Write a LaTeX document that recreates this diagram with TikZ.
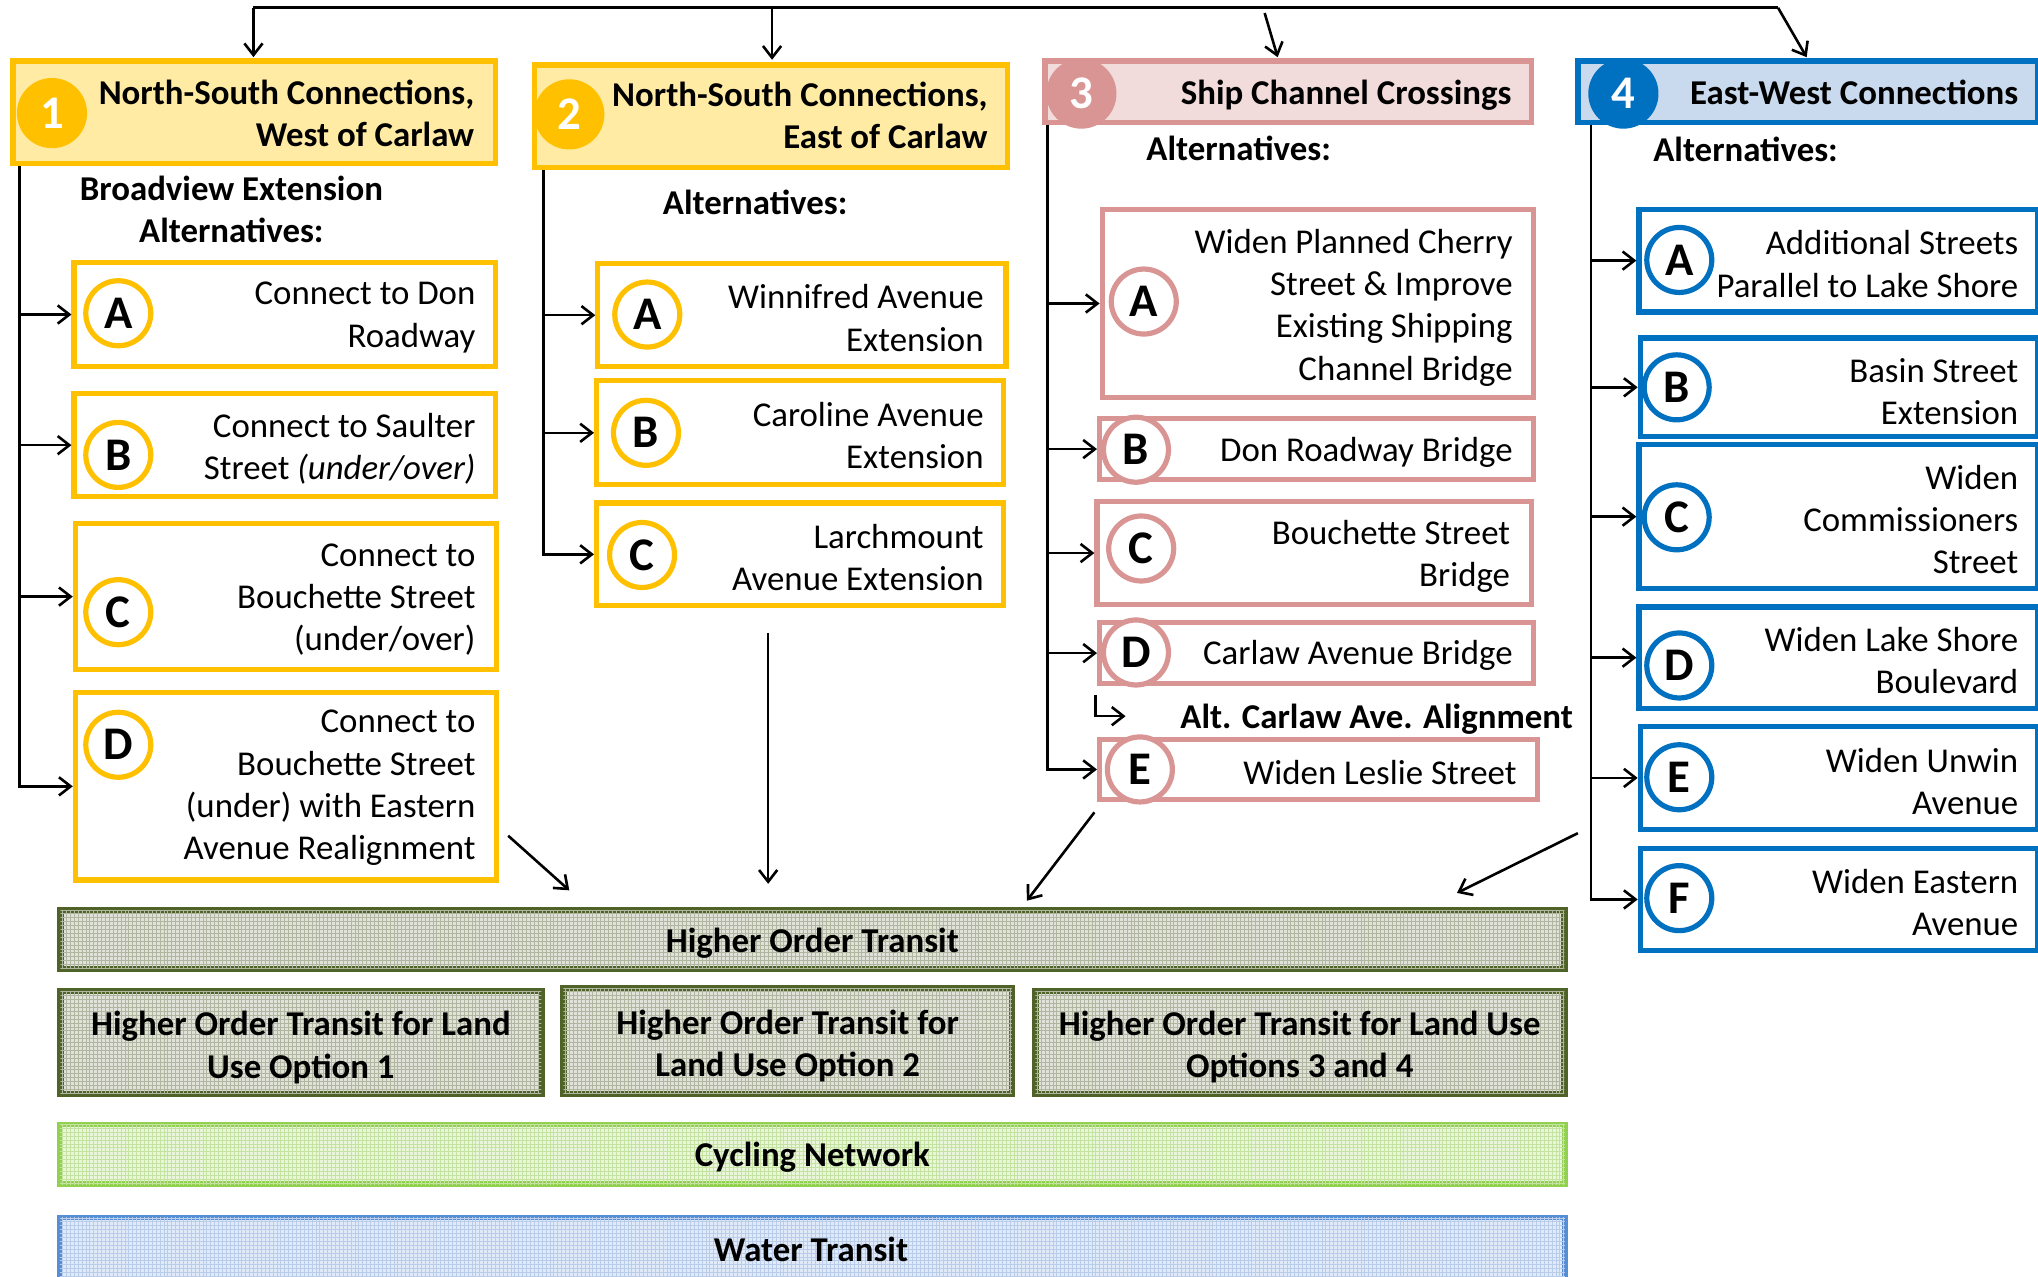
\documentclass[tikz,border=0pt]{standalone}
\usepackage{fontspec}
\setmainfont{Carlito}
\usetikzlibrary{arrows.meta,patterns}
\definecolor{gold}{HTML}{FFC000}
\definecolor{goldfill}{HTML}{FFEBA3}
\definecolor{pinkb}{HTML}{D99594}
\definecolor{pinkfill}{HTML}{F2DCDB}
\definecolor{blueb}{HTML}{0070C0}
\definecolor{bluefill}{HTML}{C9D9EE}
\definecolor{olive}{HTML}{4F6228}
\definecolor{hotfill}{HTML}{E0E2D9}
\definecolor{hotgrid}{HTML}{B0B6A0}
\definecolor{cycb}{HTML}{92D050}
\definecolor{cycfill}{HTML}{EAF6DA}
\definecolor{cycgrid}{HTML}{C5E3A0}
\definecolor{watb}{HTML}{558ED5}
\definecolor{watfill}{HTML}{E0EAF8}
\definecolor{watgrid}{HTML}{B9CDEA}
\newcommand{\myBody}{\fontsize{26.8}{32.5}\selectfont}
\newcommand{\myBold}{\fontsize{26.8}{32.5}\selectfont\bfseries}
\newcommand{\myCirc}{\fontsize{36}{40}\selectfont\bfseries}
\begin{document}
\begin{tikzpicture}[x=1pt,y=-1pt,
  box/.style={draw, line width=4pt, inner sep=0pt, rectangle},
  ybox/.style={box, draw=gold, fill=white},
  pbox/.style={box, draw=pinkb, fill=white},
  bbox/.style={box, draw=blueb, fill=white},
  obox/.style={box, draw=olive, line width=5pt, fill=hotfill, pat=hotgrid},
  hnum/.style={circle, minimum size=54pt, inner sep=0pt, text=white, font=\myCirc},
  lett/.style={circle, minimum size=50pt, inner sep=0pt, line width=4pt, fill=white, font=\myCirc},
  rtxt/.style={anchor=east, align=right, inner sep=0pt, font=\myBody, yshift=-2.2pt},
  btxt/.style={anchor=east, align=right, inner sep=0pt, font=\myBold},
  ctxt/.style={align=center, inner sep=0pt, font=\myBold},
  bartxt/.style={ctxt, yshift=-2.5pt},
  arr/.style={-{Straight Barb[length=9pt,width=14pt]}, line width=2pt},
  topline/.style={line width=2.6pt},
  pat/.style={postaction={pattern=grid, pattern color=#1}},
]
\fill[white] (0,0) rectangle (1568,982);
\useasboundingbox (0,0) rectangle (1568,982);

% ---------- headers ----------
\node[box, draw=gold, fill=goldfill, minimum width=371pt, minimum height=79pt] (h1) at (195.5,86.5) {};
\node[hnum, fill=gold] (n1) at (40,87) {1};
\node[btxt] (h1t) at (365,87) {North-South Connections,\\West of Carlaw};

\node[box, draw=gold, fill=goldfill, minimum width=364pt, minimum height=79pt] (h2) at (593,89.5) {};
\node[hnum, fill=gold] (n2) at (438,88) {2};
\node[btxt] (h2t) at (760,89) {North-South Connections,\\East of Carlaw};

\node[box, draw=pinkb, fill=pinkfill, minimum width=374pt, minimum height=47pt] (h3) at (991,70.5) {};
\node[hnum, fill=pinkb] (n3) at (832,72) {3};
\node[btxt, yshift=-2pt] (h3t) at (1163,71) {Ship Channel Crossings};

\node[box, draw=blueb, fill=bluefill, minimum width=354pt, minimum height=47pt] (h4) at (1391,70.5) {};
\node[hnum, fill=blueb] (n4) at (1249,72) {4};
\node[btxt] (h4t) at (1553,71) {East-West Connections};

% ---------- top arrows ----------
\coordinate (tL) at (195,6);
\coordinate (tM) at (594,6);
\coordinate (tR) at (1368,6);
\coordinate (t3s) at (973,10);
\coordinate (t3e) at (983,44);
\coordinate (t4e) at (1390,44);
\coordinate (t1e) at (195,44);
\coordinate (t2e) at (594,46);
\draw[topline] (tL) -- (tR);
\draw[arr] (tL) -- (t1e);
\draw[arr] (tM) -- (t2e);
\draw[arr] (t3s) -- (t3e);
\draw[arr] (tR) -- (t4e);

% ---------- column labels ----------
\node[ctxt] (l1) at (178,161) {Broadview Extension\\Alternatives:};
\node[ctxt] (l2) at (581,156) {Alternatives:};
\node[ctxt] (l3) at (953,114) {Alternatives:};
\node[ctxt] (l4) at (1343,115) {Alternatives:};

% ---------- column 1 ----------
\node[ybox, minimum width=324pt, minimum height=80pt] (a1) at (219,242) {};
\node[ybox, minimum width=324pt, minimum height=79pt] (b1) at (219,342.5) {};
\node[ybox, minimum width=324pt, minimum height=112pt] (c1) at (220,459) {};
\node[ybox, minimum width=324pt, minimum height=144pt] (d1) at (220,605) {};
\node[lett, draw=gold] (a1c) at (91,241) {A};
\node[lett, draw=gold] (b1c) at (91,350) {B};
\node[lett, draw=gold] (c1c) at (91,471) {C};
\node[lett, draw=gold] (d1c) at (91,573) {D};
\node[rtxt] (a1t) at (366,242) {Connect to Don\\Roadway};
\node[rtxt] (b1t) at (366,343) {Connect to Saulter\\Street \textit{(under/over)}};
\node[rtxt] (c1t) at (366,459) {Connect to\\Bouchette Street\\(under/over)};
\node[rtxt] (d1t) at (366,604) {Connect to\\Bouchette Street\\(under) with Eastern\\Avenue Realignment};
\coordinate (s1) at (15,128);
\draw[arr] (s1) |- (a1.west);
\draw[arr] (s1) |- (b1.west);
\draw[arr] (s1) |- (c1.west);
\draw[arr] (s1) |- (d1.west);

% ---------- column 2 ----------
\node[ybox, minimum width=314pt, minimum height=79pt] (a2) at (617,242.5) {};
\node[ybox, minimum width=313pt, minimum height=80pt] (b2) at (615.5,333) {};
\node[ybox, minimum width=313pt, minimum height=79pt] (c2) at (615.5,426.5) {};
\node[lett, draw=gold] (a2c) at (498,242) {A};
\node[lett, draw=gold] (b2c) at (497,333) {B};
\node[lett, draw=gold] (c2c) at (494,427) {C};
\node[rtxt] (a2t) at (757,242.5) {Winnifred Avenue\\Extension};
\node[rtxt] (b2t) at (757,333) {Caroline Avenue\\Extension};
\node[rtxt] (c2t) at (757,426.5) {Larchmount\\Avenue Extension};
\coordinate (s2) at (418,131);
\draw[arr] (s2) |- (a2.west);
\draw[arr] (s2) |- (b2.west);
\draw[arr] (s2) |- (c2.west);

% ---------- column 3 ----------
\node[pbox, minimum width=332pt, minimum height=145pt] (a3) at (1014,233.5) {};
\node[pbox, minimum width=334pt, minimum height=47pt] (b3) at (1013,345.5) {};
\node[pbox, minimum width=334pt, minimum height=79pt] (c3) at (1011,425.5) {};
\node[pbox, minimum width=334pt, minimum height=47pt] (d3) at (1013,502.5) {};
\node[pbox, minimum width=337pt, minimum height=46pt] (e3) at (1014.5,592) {};
\node[lett, draw=pinkb] (a3c) at (880,232) {A};
\node[lett, draw=pinkb] (b3c) at (874,346) {B};
\node[lett, draw=pinkb] (c3c) at (878,422) {C};
\node[lett, draw=pinkb] (d3c) at (874,502) {D};
\node[lett, draw=pinkb] (e3c) at (877,592) {E};
\node[rtxt] (a3t) at (1164,234.5) {Widen Planned Cherry\\Street \& Improve\\Existing Shipping\\Channel Bridge};
\node[rtxt] (b3t) at (1164,346) {Don Roadway Bridge};
\node[rtxt] (c3t) at (1162,426) {Bouchette Street\\Bridge};
\node[rtxt] (d3t) at (1164,502) {Carlaw Avenue Bridge};
\node[rtxt] (e3t) at (1167,592) {Widen Leslie Street};
\coordinate (s3) at (806,96);
\draw[arr] (s3) |- (a3.west);
\draw[arr] (s3) |- (b3.west);
\draw[arr] (s3) |- (c3.west);
\draw[arr] (s3) |- (d3.west);
\draw[arr] (s3) |- (e3.west);
\node[btxt, anchor=west, yshift=-2pt] (alt) at (908,551) {Alt. Carlaw Ave. Alignment};
\coordinate (altA) at (843,535);
\coordinate (altB) at (866,551);
\draw[arr] (altA) |- (altB);

% ---------- column 4 ----------
\node[bbox, minimum width=307pt, minimum height=79pt] (a4) at (1414.5,200.5) {};
\node[bbox, minimum width=306pt, minimum height=76pt] (b4) at (1415,298) {};
\node[bbox, minimum width=307pt, minimum height=111pt] (c4) at (1414.5,397.5) {};
\node[bbox, minimum width=307pt, minimum height=78pt] (d4) at (1414.5,506) {};
\node[bbox, minimum width=306pt, minimum height=79pt] (e4) at (1415,598.5) {};
\node[bbox, minimum width=306pt, minimum height=78pt] (f4) at (1415,692) {};
\node[lett, draw=blueb] (a4c) at (1292,200) {A};
\node[lett, draw=blueb] (b4c) at (1290,298) {B};
\node[lett, draw=blueb] (c4c) at (1290,398) {C};
\node[lett, draw=blueb] (d4c) at (1292,512) {D};
\node[lett, draw=blueb] (e4c) at (1292,598) {E};
\node[lett, draw=blueb] (f4c) at (1292,691) {F};
\node[rtxt] (a4t) at (1553,201) {Additional Streets\\Parallel to Lake Shore};
\node[rtxt] (b4t) at (1553,299) {Basin Street\\Extension};
\node[rtxt] (c4t) at (1553,397.5) {Widen\\Commissioners\\Street};
\node[rtxt] (d4t) at (1553,506) {Widen Lake Shore\\Boulevard};
\node[rtxt] (e4t) at (1553,599) {Widen Unwin\\Avenue};
\node[rtxt] (f4t) at (1553,692) {Widen Eastern\\Avenue};
\coordinate (s4) at (1224,96);
\draw[arr] (s4) |- (a4.west);
\draw[arr] (s4) |- (b4.west);
\draw[arr] (s4) |- (c4.west);
\draw[arr] (s4) |- (d4.west);
\draw[arr] (s4) |- (e4.west);
\draw[arr] (s4) |- (f4.west);

% ---------- bottom bars ----------
\node[obox, minimum width=1157pt, minimum height=45pt] (hot) at (625,723) {};
\node[bartxt] (hott) at (625,723.5) {Higher Order Transit};
\node[obox, minimum width=370pt, minimum height=79pt] (hot1) at (231.5,802) {};
\node[bartxt] (hot1t) at (231.5,803.5) {Higher Order Transit for Land\\Use Option 1};
\node[obox, minimum width=345pt, minimum height=81pt] (hot2) at (606,801) {};
\node[bartxt] (hot2t) at (606,802) {Higher Order Transit for\\Land Use Option 2};
\node[obox, minimum width=407pt, minimum height=79pt] (hot3) at (1000,802) {};
\node[bartxt] (hot3t) at (1000,803) {Higher Order Transit for Land Use\\Options 3 and 4};
\node[box, draw=cycb, fill=cycfill, pat=cycgrid, minimum width=1158pt, minimum height=46pt] (cyc) at (625,888) {};
\node[bartxt] (cyct) at (625,888) {Cycling Network};
\node[box, draw=watb, fill=watfill, pat=watgrid, minimum width=1158pt, minimum height=51pt] (wat) at (625,962.5) {};
\node[bartxt] (watt) at (624,959) {Water Transit};

% ---------- arrows to transit ----------
\coordinate (d1s) at (391,643);
\coordinate (d1e) at (438,685);
\coordinate (d2s) at (591,487);
\coordinate (d2e) at (591,680);
\coordinate (d3s) at (842,625);
\coordinate (d3e) at (790,693);
\coordinate (d4s) at (1214,641);
\coordinate (d4e) at (1121,687);
\draw[arr] (d1s) -- (d1e);
\draw[arr] (d2s) -- (d2e);
\draw[arr] (d3s) -- (d3e);
\draw[arr] (d4s) -- (d4e);
\end{tikzpicture}
\end{document}
